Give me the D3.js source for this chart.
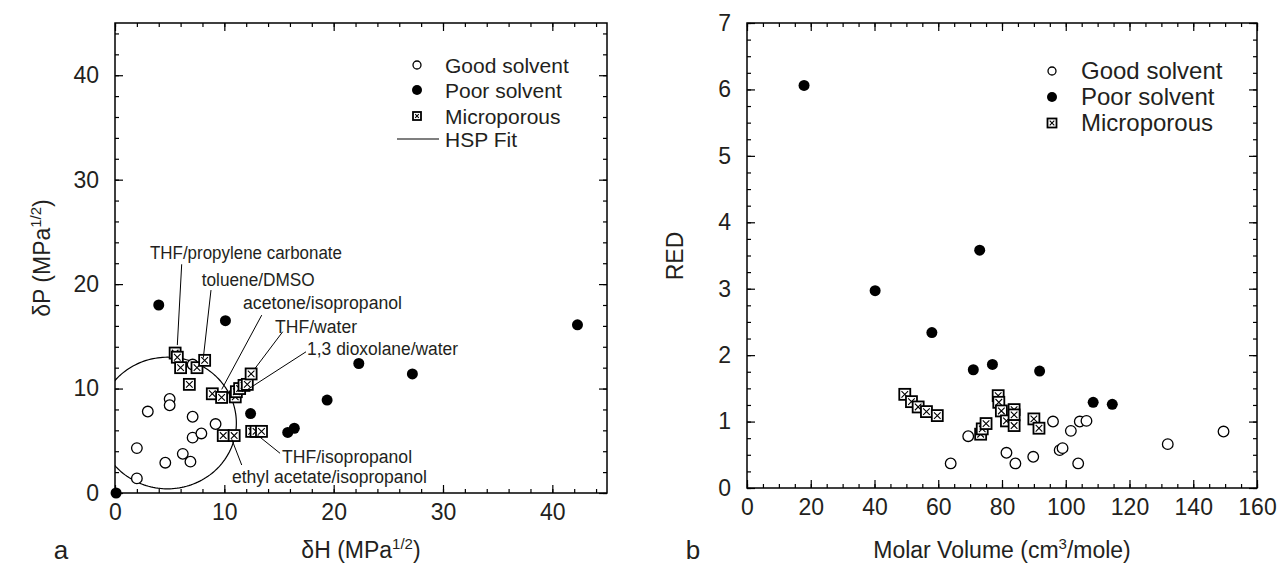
<!DOCTYPE html>
<html><head><meta charset="utf-8">
<script src="https://cdn.jsdelivr.net/npm/d3@7"></script>
<style>
html,body{margin:0;padding:0;background:#fff;}
svg{display:block;font-family:"Liberation Sans",Arial,sans-serif;}
</style></head>
<body>
<svg id="chart" width="1281" height="569"></svg>
<script>
// ---------- DATA ----------
// Panel a: dH, dP (MPa^1/2)
const goodA = [[2.0,4.3],[2.0,1.4],[3.0,7.8],[5.0,9.0],[5.0,8.4],[4.6,2.9],[6.2,3.75],[6.9,3.0],[7.1,7.3],[7.1,5.3],[7.9,5.7],[7.1,12.3],[9.2,6.6]];
const poorA = [[0.1,0],[4.0,18.0],[10.1,16.5],[12.4,7.6],[15.8,5.8],[16.4,6.2],[19.4,8.9],[22.3,12.4],[27.2,11.4],[42.3,16.1]];
const microA = [[5.5,13.4],[5.7,13.0],[6.0,12.0],[6.8,10.4],[7.5,12.0],[8.2,12.7],[8.9,9.5],[9.75,9.15],
  [11.0,9.2],[11.1,9.7],[11.4,10.0],[11.8,10.3],[12.1,10.4],[12.45,11.4],
  [9.9,5.5],[10.9,5.5],[12.5,5.9],[12.9,5.9],[13.4,5.9]];
const hspFit = {h:4.8, p:6.7, r:6.3};
// annotations: text, text anchor (dH,dP), leader line from / to (dH,dP), text width (px)
const annText = ["THF/propylene carbonate","toluene/DMSO","acetone/isopropanol","THF/water","1,3 dioxolane/water","THF/isopropanol","ethyl acetate/isopropanol"];
const annPos  = [[3.2,22.44],[7.93,19.8],[11.71,17.6],[14.64,15.31],[17.57,13.21],[15.28,2.87],[10.7,0.96]];
const annFrom = [[6.1,21.9],[8.78,19.43],[13.42,17.03],[15.34,15.44],[17.47,13.52],[15.1,3.8],[11.59,2.68]];
const annTo   = [[5.7,14.16],[8.08,12.95],[9.76,9.92],[12.81,11.93],[12.05,9.86],[13.02,5.55],[10.68,5.14]];
const annWidth = [192,113,159,82,151,130,195];

// Panel b: molar volume (cm3/mole), RED
const goodB = [[63.9,0.37],[69.4,0.78],[81.4,0.53],[84.2,0.37],[89.8,0.47],[96,1.0],[98.1,0.57],[99,0.6],[101.6,0.86],[103.9,0.37],[104.4,1.0],[106.5,1.01],[132,0.66],[149.5,0.85]];
const poorB = [[17.9,6.06],[40.2,2.97],[58,2.34],[71,1.78],[73,3.58],[77,1.86],[91.8,1.76],[108.6,1.29],[114.6,1.26]];
const microB = [[49.5,1.41],[51.6,1.30],[53.7,1.22],[56.3,1.15],[59.7,1.09],[73.3,0.81],[73.8,0.89],[75,0.97],
  [78.8,1.39],[79,1.29],[79.8,1.16],[81.4,1.01],[83.8,1.18],[83.8,1.10],[83.8,0.94],[90,1.04],[91.6,0.90]];

const legendA = ["Good solvent","Poor solvent","Microporous","HSP Fit"];
const legendB = ["Good solvent","Poor solvent","Microporous"];
const xTicksA = [0,10,20,30,40], yTicksA = [0,10,20,30,40];
const xTicksB = [0,20,40,60,80,100,120,140,160], yTicksB = [0,1,2,3,4,5,6,7];

// ---------- DRAW ----------
const svg = d3.select("#chart");
const TXT = "#231f20";

const xA = d3.scaleLinear().domain([0,45]).range([115,607]);
const yA = d3.scaleLinear().domain([0,45]).range([493,23]);
const xB = d3.scaleLinear().domain([0,160]).range([747,1257]);
const yB = d3.scaleLinear().domain([0,7]).range([488,23]);

function frame(x,y,majX,minX,majY,minY){
  const g = svg.append("g");
  const [xl,xr]=x.range(), [yb,yt]=y.range();
  const mk = (axis, tr, vals, size, labels) => {
    const a = g.append("g").attr("transform",tr)
      .call(axis.tickValues(vals).tickSize(size).tickPadding(labels?11:0).tickFormat(labels?d3.format("d"):""));
    a.select(".domain").remove();
    a.selectAll("line").attr("stroke","#000").attr("stroke-width",1.2);
    a.selectAll("text").attr("fill",TXT).attr("font-size",23).attr("font-family","Liberation Sans, Arial, sans-serif");
    return a;
  };
  mk(d3.axisBottom(x), `translate(0,${yb})`, minX, -4, false);
  mk(d3.axisBottom(x), `translate(0,${yb})`, majX, -8, true);
  mk(d3.axisTop(x), `translate(0,${yt})`, minX, -4, false);
  mk(d3.axisTop(x), `translate(0,${yt})`, majX, -8, false);
  mk(d3.axisLeft(y), `translate(${xl},0)`, minY, -4, false);
  const yl = mk(d3.axisLeft(y), `translate(${xl},0)`, majY, -8, true);
  yl.selectAll("text").attr("x",-16);
  mk(d3.axisRight(y), `translate(${xr},0)`, minY, -4, false);
  mk(d3.axisRight(y), `translate(${xr},0)`, majY, -8, false);
  g.append("rect").attr("x",xl).attr("y",yt).attr("width",xr-xl).attr("height",yb-yt)
    .attr("fill","none").attr("stroke","#000").attr("stroke-width",1.5);
}

function range(a,b,s){const r=[];for(let v=a;v<=b+1e-9;v+=s)r.push(+v.toFixed(4));return r;}

frame(xA,yA,xTicksA,range(0,45,2),yTicksA,range(0,45,2));
frame(xB,yB,xTicksB,range(0,160,5),yTicksB,range(0,7,0.25));

// markers
function openC(g,x,y,r){g.append("circle").attr("cx",x).attr("cy",y).attr("r",r).attr("fill","#fff").attr("stroke","#000").attr("stroke-width",1.3);}
function fillC(g,x,y,r){g.append("circle").attr("cx",x).attr("cy",y).attr("r",r).attr("fill","#000");}
function boxX(g,x,y,s){
  const h=s/2;
  g.append("rect").attr("x",x-h).attr("y",y-h).attr("width",s).attr("height",s).attr("fill","#fff").attr("stroke","#000").attr("stroke-width",1.8);
  const i=h-2.2;
  g.append("path").attr("d",`M${x-i},${y-i}L${x+i},${y+i}M${x+i},${y-i}L${x-i},${y+i}`).attr("stroke","#000").attr("stroke-width",1.1).attr("fill","none");
}

// Panel a
svg.append("clipPath").attr("id","clipA").append("rect")
  .attr("x",115).attr("y",23).attr("width",492).attr("height",470);
const circPts = d3.range(0,361,2).map(a=>[hspFit.h+hspFit.r*Math.cos(a*Math.PI/180), hspFit.p+hspFit.r*Math.sin(a*Math.PI/180)]);
svg.append("path").attr("clip-path","url(#clipA)")
  .attr("d",d3.line().x(d=>xA(d[0])).y(d=>yA(d[1]))(circPts))
  .attr("fill","none").attr("stroke","#000").attr("stroke-width",1.2);

const gA = svg.append("g");
goodA.forEach(d=>openC(gA,xA(d[0]),yA(d[1]),5.3));
poorA.forEach(d=>fillC(gA,xA(d[0]),yA(d[1]),5.5));
microA.forEach(d=>boxX(gA,xA(d[0]),yA(d[1]),11));

// annotations
annText.forEach((t,i)=>{
  svg.append("line").attr("x1",xA(annFrom[i][0])).attr("y1",yA(annFrom[i][1]))
    .attr("x2",xA(annTo[i][0])).attr("y2",yA(annTo[i][1])).attr("stroke","#000").attr("stroke-width",1);
  svg.append("text").attr("x",xA(annPos[i][0])).attr("y",yA(annPos[i][1]))
    .attr("font-size",18).attr("fill",TXT).attr("textLength",annWidth[i]).attr("lengthAdjust","spacingAndGlyphs").text(t);
});

// legend a
const legA = svg.append("g");
legendA.forEach((t,i)=>{
  const y = [65,90,116,139][i];
  if(i===0) openC(legA,417,y,4);
  if(i===1) fillC(legA,417,y,5);
  if(i===2) boxX(legA,417,y,8);
  if(i===3) legA.append("line").attr("x1",397).attr("x2",439).attr("y1",y).attr("y2",y).attr("stroke","#000").attr("stroke-width",1.2);
  legA.append("text").attr("x",445).attr("y",y+7.5).attr("font-size",21).attr("fill",TXT).text(t);
});

// Panel b
const gB = svg.append("g");
goodB.forEach(d=>openC(gB,xB(d[0]),yB(d[1]),5.3));
poorB.forEach(d=>fillC(gB,xB(d[0]),yB(d[1]),5.5));
microB.forEach(d=>boxX(gB,xB(d[0]),yB(d[1]),11));

const legB = svg.append("g");
legendB.forEach((t,i)=>{
  const y = [71,97,123][i];
  if(i===0) openC(legB,1052,y,4);
  if(i===1) fillC(legB,1052,y,5);
  if(i===2) boxX(legB,1052,y,9);
  legB.append("text").attr("x",1081).attr("y",y+8).attr("font-size",24).attr("fill",TXT).text(t);
});

// axis titles
function supTitle(x,y,pre,sup,post,rot){
  const t = svg.append("text").attr("font-size",23).attr("fill",TXT).attr("text-anchor","middle")
    .attr("transform",`translate(${x},${y})`+(rot?" rotate(-90)":""));
  t.append("tspan").text(pre);
  t.append("tspan").attr("dy",-9).attr("font-size",15).text(sup);
  t.append("tspan").attr("dy",9).text(post);
}
supTitle(361,558,"δH (MPa","1/2",")",false);
supTitle(50,258,"δP (MPa","1/2",")",true);
supTitle(1002,558,"Molar Volume (cm","3","/mole)",false);
svg.append("text").attr("transform","translate(683,256) rotate(-90)").attr("text-anchor","middle")
  .attr("font-size",23).attr("fill",TXT).text("RED");
svg.append("text").attr("x",61).attr("y",559).attr("text-anchor","middle").attr("font-size",26).attr("fill",TXT).text("a");
svg.append("text").attr("x",693).attr("y",559).attr("text-anchor","middle").attr("font-size",26).attr("fill",TXT).text("b");
</script>
</body></html>
